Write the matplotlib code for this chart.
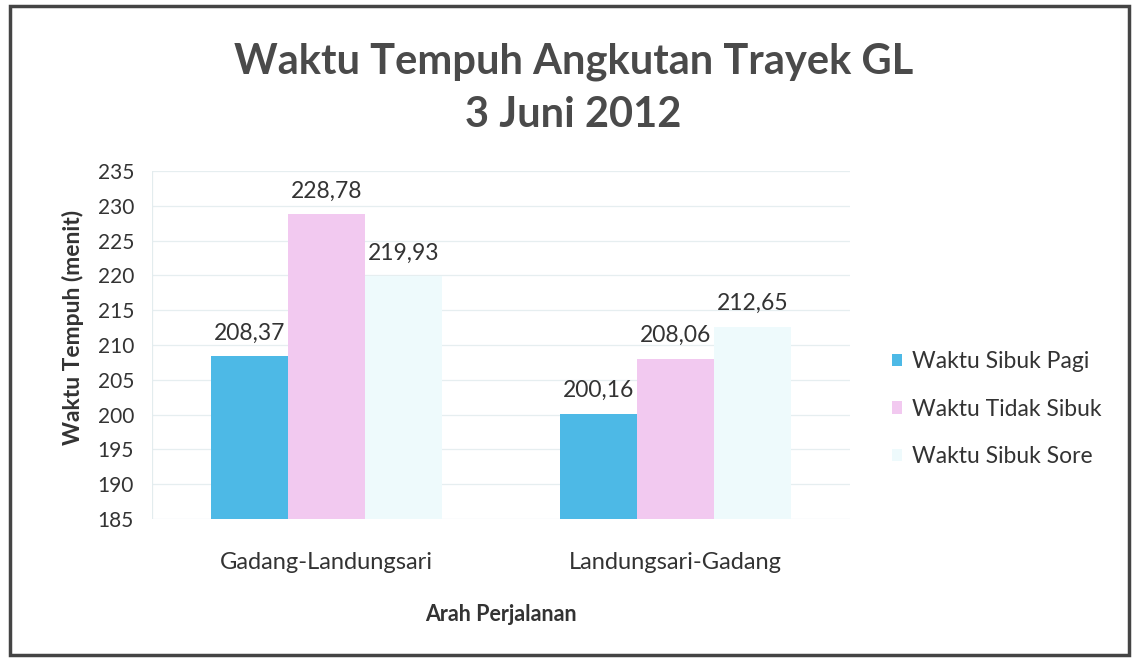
import numpy as np
import matplotlib.pyplot as plt
from matplotlib.patches import Rectangle

# data
arah = ['Gadang-Landungsari', 'Landungsari-Gadang']
seri = ['Waktu Sibuk Pagi', 'Waktu Tidak Sibuk', 'Waktu Sibuk Sore']
pagi = [208.37, 200.16]
tidak_sibuk = [228.78, 208.06]
sore = [219.93, 212.65]
warna = ['#4db9e6', '#f2c9f0', '#eefafc']

plt.rcParams['font.family'] = ['Lato', 'DejaVu Sans']

fig = plt.figure(figsize=(11.36, 6.6), dpi=100)
ax = fig.add_axes([0.1338, 0.2136, 0.6145, 0.5273])

x = np.arange(len(arah))
lebar = 0.22
nilai = [pagi, tidak_sibuk, sore]
for i, (nama, v) in enumerate(zip(seri, nilai)):
    pos = x + (i - 1) * lebar
    ax.bar(pos, np.array(v) - 185, bottom=185, width=lebar, color=warna[i],
           label=nama, zorder=2)
    for xx, yy in zip(pos, v):
        ax.text(xx, yy + 1.8, f'{yy:.2f}'.replace('.', ','), ha='center',
                va='bottom', fontsize=16.5, color='#333333')

ax.set_xlim(-0.5, 1.5)
ax.set_ylim(185, 235)
ax.set_yticks(range(185, 236, 5))
ax.set_xticks(x)
ax.set_xticklabels(arah, fontsize=17, color='#333333')
ax.tick_params(axis='y', labelsize=15, labelcolor='#333333', length=0, pad=13)
ax.tick_params(axis='x', length=0, pad=24)
ax.grid(axis='y', color='#e6eef0', linewidth=0.9, zorder=0)
for s in ax.spines.values():
    s.set_visible(False)
ax.axvline(-0.5, color='#e3ecee', linewidth=0.9)

ax.set_ylabel('Waktu Tempuh (menit)', fontsize=16.5, fontweight='bold',
              color='#333333')
ax.yaxis.set_label_coords(-0.097, 0.55)
ax.set_xlabel('Arah Perjalanan', fontsize=15.5, fontweight='bold',
              color='#333333', labelpad=22)

fig.text(0.505, 0.906, 'Waktu Tempuh Angkutan Trayek GL', ha='center',
         va='center', fontsize=30, fontweight='bold', color='#4a4a4a')
fig.text(0.505, 0.826, '3 Juni 2012', ha='center', va='center',
         fontsize=30, fontweight='bold', color='#4a4a4a')

leg = ax.legend(loc='center left', bbox_to_anchor=(1.03, 0.316), frameon=False,
                fontsize=16.5, handlelength=0.45, handleheight=0.45,
                handletextpad=0.45, labelspacing=1.15)
for t in leg.get_texts():
    t.set_color('#333333')

fig.patches.append(Rectangle((0.009, 0.008), 0.985, 0.983,
                             transform=fig.transFigure, fill=False,
                             edgecolor='#444444', linewidth=2.5))

fig.savefig('out.png', dpi=100)
